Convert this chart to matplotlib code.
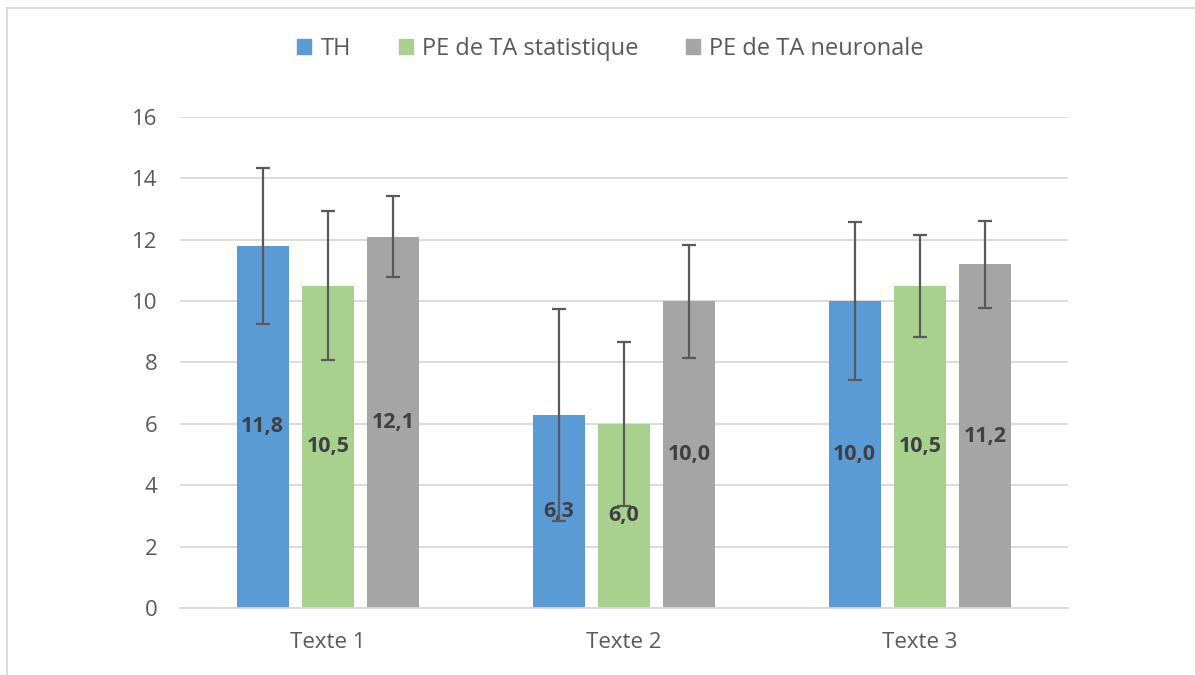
import numpy as np
import matplotlib
matplotlib.use("Agg")
from matplotlib import pyplot as plt
from matplotlib.lines import Line2D

plt.rcParams['font.family'] = ['Open Sans', 'DejaVu Sans']

# donnees
categories = ['Texte 1', 'Texte 2', 'Texte 3']
series = ['TH', 'PE de TA statistique', 'PE de TA neuronale']
th = [11.8, 6.3, 10.0]
stat = [10.5, 6.0, 10.5]
neur = [12.1, 10.0, 11.2]
th_err = [2.55, 3.45, 2.57]
stat_err = [2.43, 2.67, 1.66]
neur_err = [1.33, 1.84, 1.42]
labels_th = ['11,8', '6,3', '10,0']
labels_stat = ['10,5', '6,0', '10,5']
labels_neur = ['12,1', '10,0', '11,2']

colors = ['#5B9BD5', '#A9D18E', '#A5A5A5']
grid_c = '#D9D9D9'
text_c = '#595959'

fig = plt.figure(figsize=(11.95, 6.75), dpi=100)
ax = fig.add_axes([0.1506, 0.0993, 0.7431, 0.7274])

x = np.arange(len(categories))
w = 0.176
step = 0.221
vals = [th, stat, neur]
errs = [th_err, stat_err, neur_err]
labs = [labels_th, labels_stat, labels_neur]

for i in range(3):
    pos = x + (i - 1) * step
    ax.bar(pos, vals[i], width=w, color=colors[i], zorder=2, label=series[i])
    for p, v, t in zip(pos, vals[i], labs[i]):
        ax.text(p, v / 2, t, ha='center', va='center', fontsize=15.5,
                fontweight='bold', color='#404040', zorder=3)
    ax.errorbar(pos, vals[i], yerr=errs[i], fmt='none', ecolor='#595959',
                elinewidth=1.6, capsize=5, capthick=1.6, zorder=4)

ax.set_xlim(-0.5, 2.5)
ax.set_ylim(0, 16)
ax.set_yticks(range(0, 17, 2))
ax.set_xticks(x)
ax.set_xticklabels(categories)
ax.yaxis.grid(True, color=grid_c, linewidth=1.3, zorder=0)
ax.set_axisbelow(True)
for s in ['top', 'right', 'left']:
    ax.spines[s].set_visible(False)
ax.spines['bottom'].set_color(grid_c)
ax.spines['bottom'].set_linewidth(1.3)
ax.tick_params(axis='both', length=0, labelsize=16, colors=text_c)
ax.tick_params(axis='x', pad=17)
ax.tick_params(axis='y', pad=16)

handles = [plt.Rectangle((0, 0), 1, 1, color=c) for c in colors]
fig.legend(handles, series, loc='center', bbox_to_anchor=(0.5110, 0.928), ncol=3,
           frameon=False, fontsize=17, labelcolor=text_c, handlelength=0.6,
           handleheight=0.6, handletextpad=0.4, columnspacing=2.0)

# cadre du graphique
fig.add_artist(Line2D([7 / 1195, 1.0], [1 - 8 / 675, 1 - 8 / 675],
                      color=grid_c, linewidth=1.3, transform=fig.transFigure))
fig.add_artist(Line2D([7 / 1195, 7 / 1195], [0.0, 1 - 8 / 675],
                      color=grid_c, linewidth=1.3, transform=fig.transFigure))

fig.savefig('out.png', dpi=100)
